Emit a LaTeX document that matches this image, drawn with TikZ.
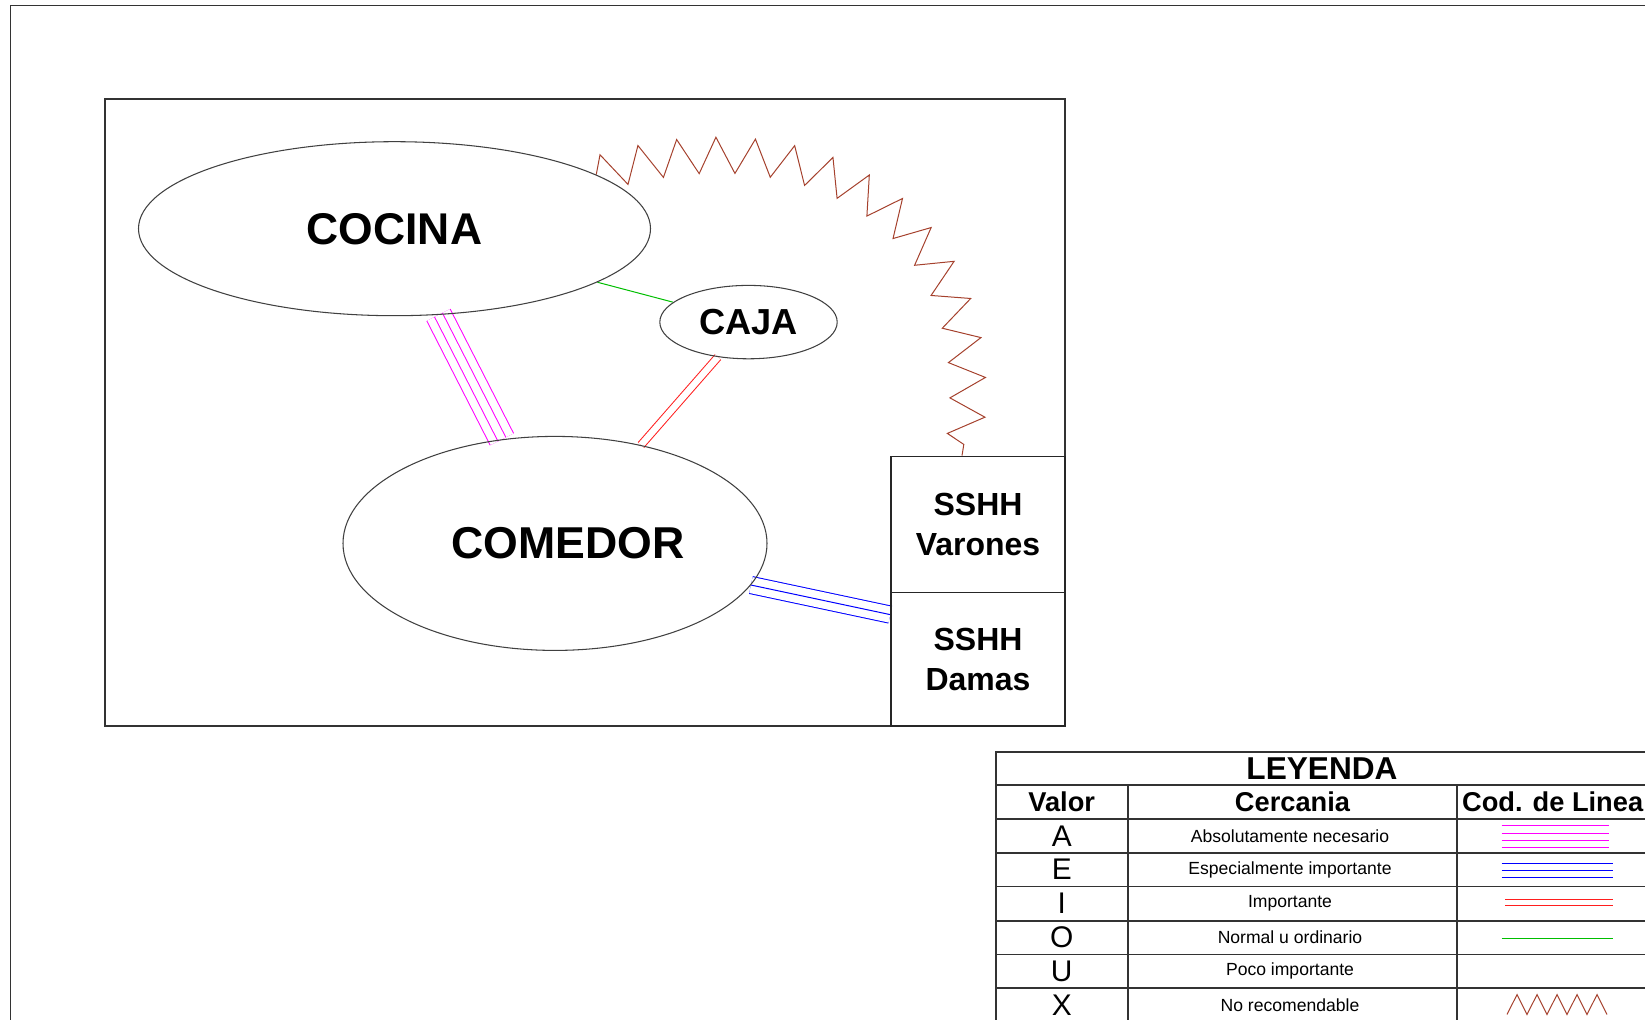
\documentclass[tikz,border=0pt]{standalone}
\usepackage{fontspec}
\setmainfont{Liberation Sans}
\usetikzlibrary{shapes.geometric,decorations.pathmorphing,calc}
\pgfdeclarelayer{background}
\pgfsetlayers{background,main}
\def\pxu{0.02cm}
\definecolor{magL}{RGB}{255,0,255}
\definecolor{blueL}{RGB}{0,0,255}
\definecolor{redL}{RGB}{255,30,30}
\definecolor{greenL}{RGB}{0,190,0}
\definecolor{brownL}{RGB}{165,65,45}
\begin{document}
\begin{tikzpicture}[x=0.02cm,y=0.02cm,
  area/.style={ellipse, draw=black!75, line width=0.6pt, inner sep=0pt},
  roombox/.style={rectangle, draw=black!85, line width=0.9pt, inner sep=0pt, align=center,
    minimum width=174*\pxu, font=\fontsize{18.2}{23}\selectfont\bfseries},
  frameline/.style={draw=black!80, line width=1.1pt},
  gridline/.style={draw=black!80, line width=1.1pt},
  thin/.style={line width=0.57pt},
  hdr/.style={inner sep=0pt, font=\fontsize{15.5}{18}\selectfont\bfseries},
  val/.style={inner sep=0pt, font=\fontsize{17}{20}\selectfont},
  desc/.style={inner sep=0pt, font=\fontsize{10}{12}\selectfont},
  zig/.style={brownL, line width=0.57pt, decorate,
    decoration={zigzag, segment length=21.4pt, amplitude=10.2pt}}
]
\useasboundingbox (0,0) rectangle (1645,1019);
% outer frame
\draw[frameline] (10.5,-10) -- (10.5,1013.5) -- (1660,1013.5);
% inner box
\draw[frameline] (105,293) rectangle (1065,920.4);

% areas
\node[area, minimum width=512*\pxu, minimum height=174*\pxu,
      font=\fontsize{25.3}{30}\selectfont\bfseries] (cocina) at (394.5,790.3) {COCINA};
\node[area, minimum width=177.4*\pxu, minimum height=73.4*\pxu,
      font=\fontsize{20.6}{24}\selectfont\bfseries] (caja) at (748.5,696.9) {CAJA};
\node[area, minimum width=424*\pxu, minimum height=214*\pxu] (comedor) at (555,475.6) {};
\node[inner sep=0pt, font=\fontsize{25.4}{30}\selectfont\bfseries] (comedorlbl)
      at ($(comedor)+(13,0)$) {COMEDOR};
\node[roombox, minimum height=136.3*\pxu] (varones) at (978,494.45) {SSHH\\Varones};
\node[roombox, minimum height=133.3*\pxu] (damas) at (978,359.65) {SSHH\\Damas};
\coordinate (zend) at ($(varones.north)+(-16,0)$);

% connectors
\begin{pgfonlayer}{background}
  % A: absolutely necessary (4 lines)
  \draw[magL, thin, double=white, double distance=14.28pt] (cocina) -- (comedor);
  \draw[magL, thin, double=white, double distance=4.38pt] (cocina) -- (comedor);
  % I: important (2 lines)
  \draw[redL, thin, double=white, double distance=3.7pt] (caja) -- (comedor);
  % O: normal (1 line)
  \draw[greenL, thin] (cocina) -- (caja);
  % E: especially important (3 lines)
  \draw[blueL, thin, double=white, double distance=9.21pt] (comedor) -- (damas.153);
  \draw[blueL, thin] (comedor) -- (damas.153);
  % X: not recommended
  \draw[zig] (cocina.15) to[out=17, in=80, looseness=1.3] (zend);
\end{pgfonlayer}

% legend grid
\draw[gridline] (995.6,-10) -- (995.6,267) -- (1660,267);
\draw[gridline] (1660,-10) -- (1660,267);
\foreach \yy in {234,199.7,166.4,132.5,98,64.5,30.7}
  \draw[gridline] (995.6,\yy) -- (1660,\yy);
\draw[gridline] (1127.8,-10) -- (1127.8,234);
\draw[gridline] (1457.2,-10) -- (1457.2,234);

% legend texts
\node[inner sep=0pt, font=\fontsize{18}{21}\selectfont\bfseries] (leyenda) at (1322,250.5) {LEYENDA};
\node[hdr] (hvalor) at (1061.7,216.9) {Valor};
\node[hdr] (hcerc) at (1292.5,216.9) {Cercania};
\node[hdr] (hcod) at (1552.6,216.9) {Cod. de Linea};

\node[val] (vA) at (1061.7,183) {A};
\node[val] (vE) at (1061.7,149.5) {E};
\node[val] (vI) at (1061.7,115.3) {I};
\node[val] (vO) at (1061.7,81.3) {O};
\node[val] (vU) at (1061.7,47.6) {U};
\node[val] (vX) at (1061.7,13.9) {X};

\node[desc] (dA) at (1290,183) {Absolutamente necesario};
\node[desc] (dE) at (1290,149.5) {Especialmente importante};
\node[desc] (dI) at (1290,115.3) {Importante};
\node[desc] (dO) at (1290,81.3) {Normal u ordinario};
\node[desc] (dU) at (1290,47.6) {Poco importante};
\node[desc] (dX) at (1290,13.9) {No recomendable};

% legend line codes
\foreach \yy in {193.3,186,178.8,171.5}
  \draw[magL, thin] (1501.7,\yy) -- (1609.3,\yy);
\foreach \yy in {155.7,148.7,141.7}
  \draw[blueL, thin] (1501.7,\yy) -- (1613.3,\yy);
\foreach \yy in {120,114}
  \draw[redL, thin] (1505,\yy) -- (1613,\yy);
\draw[greenL, thin] (1501.7,80.7) -- (1612.7,80.7);
\draw[brownL, thin] (1507,4.5) -- (1517,24.4) -- (1527,4.5) -- (1537,24.4) -- (1547,4.5)
  -- (1557,24.4) -- (1567,4.5) -- (1577,24.4) -- (1587,4.5) -- (1597,24.4) -- (1607,4.5);
\end{tikzpicture}
\end{document}
